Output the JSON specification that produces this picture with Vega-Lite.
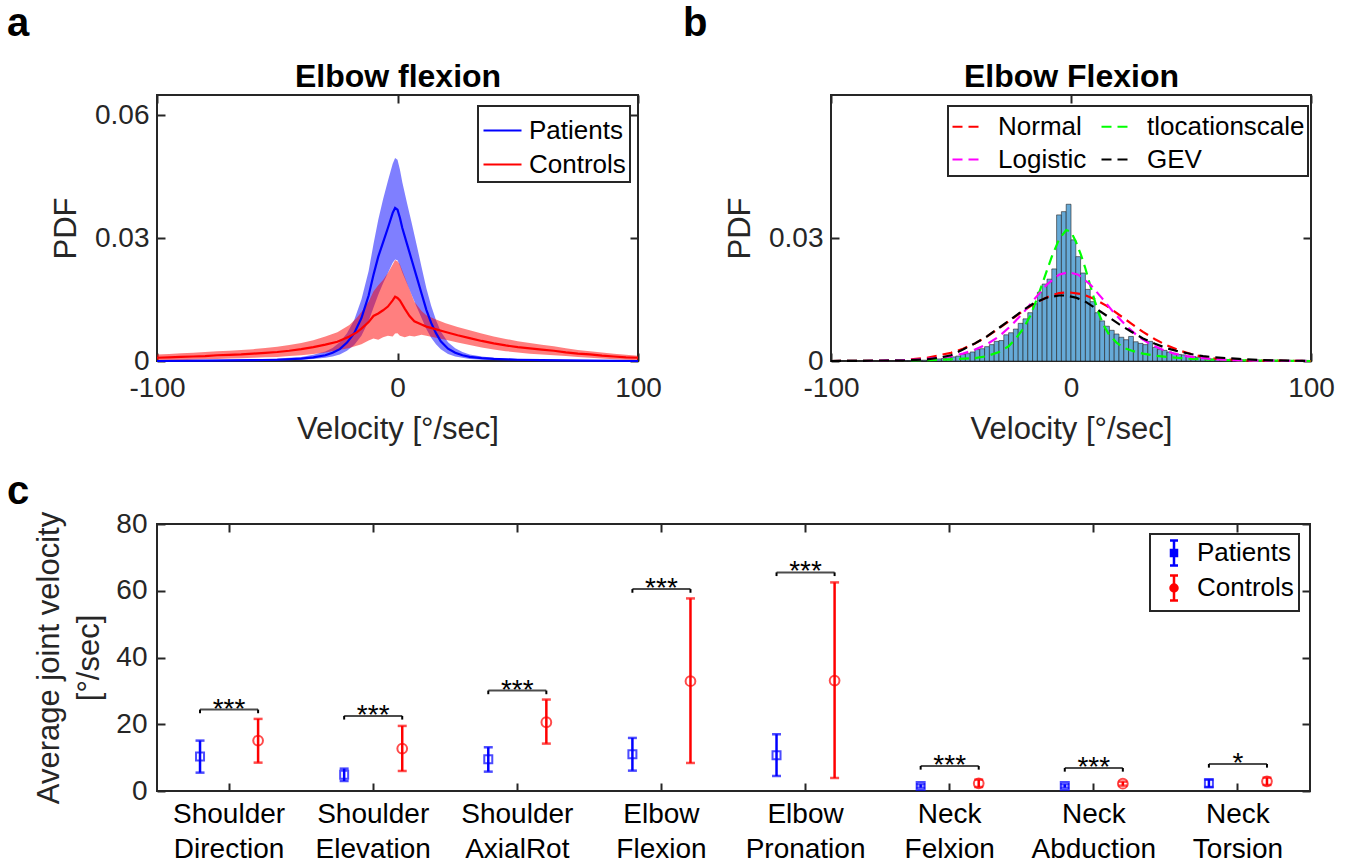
{
  "$schema": "https://vega.github.io/schema/vega-lite/v6.json",
  "background": "white",
  "padding": {"left": 6, "top": 3, "right": 0, "bottom": 0},
  "config": {
    "font": "Liberation Sans",
    "view": {"stroke": "#262626", "strokeWidth": 2},
    "axis": {
      "labelFont": "Liberation Sans", "labelFontSize": 28, "labelColor": "#262626", "labelFlush": false,
      "titleFont": "Liberation Sans", "titleFontSize": 31, "titleFontWeight": "normal", "titleColor": "#262626",
      "domain": false, "grid": false, "tickColor": "#262626", "tickWidth": 2, "tickSize": -8, "labelPadding": 16
    },
    "legend": {"labelFont": "Liberation Sans", "labelFontSize": 26, "labelColor": "#000000", "strokeColor": "#262626", "fillColor": "white", "orient": "none", "title": null, "strokeWidth": 2},
    "title": {"font": "Liberation Sans", "fontSize": 40, "fontWeight": "bold", "anchor": "start", "frame": "group", "baseline": "alphabetic", "color": "#000000"}
  },
  "datasets": {
    "bandsA": [
      {"g":"Patients","v":-100,"m":0,"lo":0,"hi":0.0001},
      {"g":"Patients","v":-80,"m":0.0001,"lo":0,"hi":0.0002},
      {"g":"Patients","v":-60,"m":0.0002,"lo":0.0001,"hi":0.0004},
      {"g":"Patients","v":-50,"m":0.0003,"lo":0.0001,"hi":0.0006},
      {"g":"Patients","v":-40,"m":0.0006,"lo":0.0003,"hi":0.0010},
      {"g":"Patients","v":-35,"m":0.0009,"lo":0.0005,"hi":0.0015},
      {"g":"Patients","v":-30,"m":0.0014,"lo":0.0008,"hi":0.0023},
      {"g":"Patients","v":-27,"m":0.0020,"lo":0.0011,"hi":0.0032},
      {"g":"Patients","v":-24,"m":0.0029,"lo":0.0016,"hi":0.0046},
      {"g":"Patients","v":-21,"m":0.0045,"lo":0.0025,"hi":0.0068},
      {"g":"Patients","v":-18,"m":0.0068,"lo":0.0039,"hi":0.0100},
      {"g":"Patients","v":-15,"m":0.0105,"lo":0.0062,"hi":0.0150},
      {"g":"Patients","v":-12,"m":0.0160,"lo":0.0098,"hi":0.0220},
      {"g":"Patients","v":-10,"m":0.0210,"lo":0.0130,"hi":0.0285},
      {"g":"Patients","v":-8,"m":0.0255,"lo":0.0162,"hi":0.0345},
      {"g":"Patients","v":-6,"m":0.0290,"lo":0.0190,"hi":0.0395},
      {"g":"Patients","v":-4,"m":0.0325,"lo":0.0215,"hi":0.0440},
      {"g":"Patients","v":-2,"m":0.0362,"lo":0.0240,"hi":0.0482},
      {"g":"Patients","v":-1,"m":0.0374,"lo":0.0248,"hi":0.0496},
      {"g":"Patients","v":0,"m":0.0370,"lo":0.0246,"hi":0.0492},
      {"g":"Patients","v":1,"m":0.0350,"lo":0.0233,"hi":0.0468},
      {"g":"Patients","v":2,"m":0.0325,"lo":0.0216,"hi":0.0437},
      {"g":"Patients","v":4,"m":0.0285,"lo":0.0188,"hi":0.0385},
      {"g":"Patients","v":6,"m":0.0245,"lo":0.0160,"hi":0.0335},
      {"g":"Patients","v":8,"m":0.0205,"lo":0.0132,"hi":0.0283},
      {"g":"Patients","v":10,"m":0.0165,"lo":0.0105,"hi":0.0230},
      {"g":"Patients","v":12,"m":0.0125,"lo":0.0078,"hi":0.0178},
      {"g":"Patients","v":14,"m":0.0093,"lo":0.0057,"hi":0.0135},
      {"g":"Patients","v":16,"m":0.0068,"lo":0.0041,"hi":0.0100},
      {"g":"Patients","v":18,"m":0.0048,"lo":0.0029,"hi":0.0072},
      {"g":"Patients","v":21,"m":0.0030,"lo":0.0017,"hi":0.0046},
      {"g":"Patients","v":24,"m":0.0020,"lo":0.0011,"hi":0.0031},
      {"g":"Patients","v":27,"m":0.0014,"lo":0.0008,"hi":0.0022},
      {"g":"Patients","v":30,"m":0.0010,"lo":0.0005,"hi":0.0016},
      {"g":"Patients","v":35,"m":0.0007,"lo":0.0003,"hi":0.0011},
      {"g":"Patients","v":40,"m":0.0005,"lo":0.0002,"hi":0.0008},
      {"g":"Patients","v":50,"m":0.0003,"lo":0.0001,"hi":0.0005},
      {"g":"Patients","v":60,"m":0.0002,"lo":0,"hi":0.0003},
      {"g":"Patients","v":80,"m":0.0001,"lo":0,"hi":0.0002},
      {"g":"Patients","v":100,"m":0,"lo":0,"hi":0.0001},
      {"g":"Controls","v":-100,"m":0.0008,"lo":0.0001,"hi":0.0016},
      {"g":"Controls","v":-95,"m":0.0009,"lo":0.0002,"hi":0.0017},
      {"g":"Controls","v":-90,"m":0.0010,"lo":0.0002,"hi":0.0019},
      {"g":"Controls","v":-85,"m":0.0011,"lo":0.0003,"hi":0.0020},
      {"g":"Controls","v":-80,"m":0.0012,"lo":0.0004,"hi":0.0022},
      {"g":"Controls","v":-75,"m":0.0014,"lo":0.0005,"hi":0.0024},
      {"g":"Controls","v":-70,"m":0.0015,"lo":0.0006,"hi":0.0025},
      {"g":"Controls","v":-65,"m":0.0016,"lo":0.0007,"hi":0.0027},
      {"g":"Controls","v":-60,"m":0.0018,"lo":0.0008,"hi":0.0029},
      {"g":"Controls","v":-55,"m":0.0020,"lo":0.0009,"hi":0.0032},
      {"g":"Controls","v":-50,"m":0.0022,"lo":0.0010,"hi":0.0035},
      {"g":"Controls","v":-45,"m":0.0025,"lo":0.0012,"hi":0.0039},
      {"g":"Controls","v":-40,"m":0.0029,"lo":0.0014,"hi":0.0044},
      {"g":"Controls","v":-35,"m":0.0034,"lo":0.0017,"hi":0.0051},
      {"g":"Controls","v":-30,"m":0.0040,"lo":0.0021,"hi":0.0060},
      {"g":"Controls","v":-25,"m":0.0047,"lo":0.0026,"hi":0.0070},
      {"g":"Controls","v":-20,"m":0.0060,"lo":0.0032,"hi":0.0088},
      {"g":"Controls","v":-17,"m":0.0070,"lo":0.0037,"hi":0.0105},
      {"g":"Controls","v":-15,"m":0.0079,"lo":0.0041,"hi":0.0120},
      {"g":"Controls","v":-12,"m":0.0095,"lo":0.0050,"hi":0.0145},
      {"g":"Controls","v":-10,"m":0.0110,"lo":0.0055,"hi":0.0170},
      {"g":"Controls","v":-8,"m":0.0116,"lo":0.0052,"hi":0.0185},
      {"g":"Controls","v":-6,"m":0.0124,"lo":0.0058,"hi":0.0198},
      {"g":"Controls","v":-4,"m":0.0133,"lo":0.0062,"hi":0.0215},
      {"g":"Controls","v":-2,"m":0.0148,"lo":0.0060,"hi":0.0236},
      {"g":"Controls","v":-1,"m":0.0157,"lo":0.0067,"hi":0.0247},
      {"g":"Controls","v":0,"m":0.0154,"lo":0.0068,"hi":0.0244},
      {"g":"Controls","v":1,"m":0.0148,"lo":0.0062,"hi":0.0236},
      {"g":"Controls","v":3,"m":0.0128,"lo":0.0058,"hi":0.0205},
      {"g":"Controls","v":5,"m":0.0110,"lo":0.0062,"hi":0.0175},
      {"g":"Controls","v":7,"m":0.0097,"lo":0.0060,"hi":0.0145},
      {"g":"Controls","v":10,"m":0.0089,"lo":0.0064,"hi":0.0122},
      {"g":"Controls","v":12,"m":0.0084,"lo":0.0062,"hi":0.0112},
      {"g":"Controls","v":15,"m":0.0079,"lo":0.0058,"hi":0.0104},
      {"g":"Controls","v":20,"m":0.0071,"lo":0.0052,"hi":0.0092},
      {"g":"Controls","v":25,"m":0.0063,"lo":0.0045,"hi":0.0083},
      {"g":"Controls","v":30,"m":0.0056,"lo":0.0039,"hi":0.0075},
      {"g":"Controls","v":35,"m":0.0049,"lo":0.0033,"hi":0.0067},
      {"g":"Controls","v":40,"m":0.0043,"lo":0.0028,"hi":0.0060},
      {"g":"Controls","v":45,"m":0.0038,"lo":0.0024,"hi":0.0054},
      {"g":"Controls","v":50,"m":0.0034,"lo":0.0021,"hi":0.0048},
      {"g":"Controls","v":55,"m":0.0031,"lo":0.0018,"hi":0.0044},
      {"g":"Controls","v":60,"m":0.0028,"lo":0.0016,"hi":0.0040},
      {"g":"Controls","v":65,"m":0.0025,"lo":0.0014,"hi":0.0036},
      {"g":"Controls","v":70,"m":0.0021,"lo":0.0012,"hi":0.0031},
      {"g":"Controls","v":75,"m":0.0018,"lo":0.0010,"hi":0.0027},
      {"g":"Controls","v":80,"m":0.0016,"lo":0.0008,"hi":0.0024},
      {"g":"Controls","v":85,"m":0.0013,"lo":0.0006,"hi":0.0021},
      {"g":"Controls","v":90,"m":0.0011,"lo":0.0004,"hi":0.0018},
      {"g":"Controls","v":95,"m":0.0009,"lo":0.0003,"hi":0.0015},
      {"g":"Controls","v":100,"m":0.0008,"lo":0.0002,"hi":0.0013}
    ],
    "hist": [
      {"b0":-70,"b1":-68,"pdf":0.0001},{"b0":-68,"b1":-66,"pdf":0.0001},{"b0":-66,"b1":-64,"pdf":0.0001},
      {"b0":-64,"b1":-62,"pdf":0.0002},{"b0":-62,"b1":-60,"pdf":0.0002},{"b0":-60,"b1":-58,"pdf":0.0003},
      {"b0":-58,"b1":-56,"pdf":0.0004},{"b0":-56,"b1":-54,"pdf":0.0005},{"b0":-54,"b1":-52,"pdf":0.0006},
      {"b0":-52,"b1":-50,"pdf":0.0008},{"b0":-50,"b1":-48,"pdf":0.0010},{"b0":-48,"b1":-46,"pdf":0.0012},
      {"b0":-46,"b1":-44,"pdf":0.0016},{"b0":-44,"b1":-42,"pdf":0.0018},{"b0":-42,"b1":-40,"pdf":0.0022},
      {"b0":-40,"b1":-38,"pdf":0.0028},{"b0":-38,"b1":-36,"pdf":0.0030},{"b0":-36,"b1":-34,"pdf":0.0035},
      {"b0":-34,"b1":-32,"pdf":0.0040},{"b0":-32,"b1":-30,"pdf":0.0048},{"b0":-30,"b1":-28,"pdf":0.0050},
      {"b0":-28,"b1":-26,"pdf":0.0064},{"b0":-26,"b1":-24,"pdf":0.0069},{"b0":-24,"b1":-22,"pdf":0.0078},
      {"b0":-22,"b1":-20,"pdf":0.0092},{"b0":-20,"b1":-18,"pdf":0.0103},{"b0":-18,"b1":-16,"pdf":0.0118},
      {"b0":-16,"b1":-14,"pdf":0.0140},{"b0":-14,"b1":-12,"pdf":0.0168},{"b0":-12,"b1":-10,"pdf":0.0188},
      {"b0":-10,"b1":-8,"pdf":0.0200},{"b0":-8,"b1":-6,"pdf":0.0225},{"b0":-6,"b1":-4,"pdf":0.0357},
      {"b0":-4,"b1":-2,"pdf":0.0365},{"b0":-2,"b1":0,"pdf":0.0383},{"b0":0,"b1":2,"pdf":0.0296},
      {"b0":2,"b1":4,"pdf":0.0255},{"b0":4,"b1":6,"pdf":0.0215},{"b0":6,"b1":8,"pdf":0.0175},
      {"b0":8,"b1":10,"pdf":0.0145},{"b0":10,"b1":12,"pdf":0.0118},{"b0":12,"b1":14,"pdf":0.0098},
      {"b0":14,"b1":16,"pdf":0.0085},{"b0":16,"b1":18,"pdf":0.0075},{"b0":18,"b1":20,"pdf":0.0066},
      {"b0":20,"b1":22,"pdf":0.0058},{"b0":22,"b1":24,"pdf":0.0052},{"b0":24,"b1":26,"pdf":0.0060},
      {"b0":26,"b1":28,"pdf":0.0047},{"b0":28,"b1":30,"pdf":0.0043},{"b0":30,"b1":32,"pdf":0.0040},
      {"b0":32,"b1":34,"pdf":0.0048},{"b0":34,"b1":36,"pdf":0.0033},{"b0":36,"b1":38,"pdf":0.0028},
      {"b0":38,"b1":40,"pdf":0.0026},{"b0":40,"b1":42,"pdf":0.0022},{"b0":42,"b1":44,"pdf":0.0019},
      {"b0":44,"b1":46,"pdf":0.0016},{"b0":46,"b1":48,"pdf":0.0015},{"b0":48,"b1":50,"pdf":0.0012},
      {"b0":50,"b1":52,"pdf":0.0011},{"b0":52,"b1":54,"pdf":0.0009},{"b0":54,"b1":56,"pdf":0.0008},
      {"b0":56,"b1":58,"pdf":0.0006},{"b0":58,"b1":60,"pdf":0.0005},{"b0":60,"b1":62,"pdf":0.0005},
      {"b0":62,"b1":64,"pdf":0.0004},{"b0":64,"b1":66,"pdf":0.0003},{"b0":66,"b1":68,"pdf":0.0002},
      {"b0":68,"b1":70,"pdf":0.0002},{"b0":70,"b1":72,"pdf":0.0001},{"b0":72,"b1":74,"pdf":0.0001}
    ],
    "fits": [
      {"d":"Normal","v":-100,"pdf":0},{"d":"Normal","v":-80,"pdf":0.0001},{"d":"Normal","v":-70,"pdf":0.0002},
      {"d":"Normal","v":-60,"pdf":0.0008},{"d":"Normal","v":-50,"pdf":0.0020},{"d":"Normal","v":-45,"pdf":0.0030},
      {"d":"Normal","v":-40,"pdf":0.0043},{"d":"Normal","v":-35,"pdf":0.0060},{"d":"Normal","v":-30,"pdf":0.0080},
      {"d":"Normal","v":-25,"pdf":0.0101},{"d":"Normal","v":-20,"pdf":0.0122},{"d":"Normal","v":-15,"pdf":0.0141},
      {"d":"Normal","v":-10,"pdf":0.0156},{"d":"Normal","v":-5,"pdf":0.0166},{"d":"Normal","v":-1,"pdf":0.0168},
      {"d":"Normal","v":5,"pdf":0.0163},{"d":"Normal","v":10,"pdf":0.0151},{"d":"Normal","v":15,"pdf":0.0134},
      {"d":"Normal","v":20,"pdf":0.0113},{"d":"Normal","v":25,"pdf":0.0092},{"d":"Normal","v":30,"pdf":0.0071},
      {"d":"Normal","v":35,"pdf":0.0053},{"d":"Normal","v":40,"pdf":0.0038},{"d":"Normal","v":45,"pdf":0.0026},
      {"d":"Normal","v":50,"pdf":0.0017},{"d":"Normal","v":55,"pdf":0.0010},{"d":"Normal","v":60,"pdf":0.0006},
      {"d":"Normal","v":70,"pdf":0.0002},{"d":"Normal","v":80,"pdf":0.0001},{"d":"Normal","v":100,"pdf":0},
      {"d":"tlocationscale","v":-100,"pdf":0},{"d":"tlocationscale","v":-80,"pdf":0.0001},{"d":"tlocationscale","v":-60,"pdf":0.0002},
      {"d":"tlocationscale","v":-50,"pdf":0.0004},{"d":"tlocationscale","v":-40,"pdf":0.0007},{"d":"tlocationscale","v":-35,"pdf":0.0012},
      {"d":"tlocationscale","v":-30,"pdf":0.0022},{"d":"tlocationscale","v":-26,"pdf":0.0036},{"d":"tlocationscale","v":-23,"pdf":0.0055},
      {"d":"tlocationscale","v":-20,"pdf":0.0078},{"d":"tlocationscale","v":-17,"pdf":0.0110},{"d":"tlocationscale","v":-14,"pdf":0.0155},
      {"d":"tlocationscale","v":-11,"pdf":0.0205},{"d":"tlocationscale","v":-8,"pdf":0.0255},{"d":"tlocationscale","v":-5,"pdf":0.0297},
      {"d":"tlocationscale","v":-2,"pdf":0.0320},{"d":"tlocationscale","v":0,"pdf":0.0316},{"d":"tlocationscale","v":2,"pdf":0.0292},
      {"d":"tlocationscale","v":4,"pdf":0.0262},{"d":"tlocationscale","v":6,"pdf":0.0226},{"d":"tlocationscale","v":8,"pdf":0.0185},
      {"d":"tlocationscale","v":10,"pdf":0.0145},{"d":"tlocationscale","v":12,"pdf":0.0110},{"d":"tlocationscale","v":14,"pdf":0.0083},
      {"d":"tlocationscale","v":16,"pdf":0.0063},{"d":"tlocationscale","v":19,"pdf":0.0045},{"d":"tlocationscale","v":22,"pdf":0.0032},
      {"d":"tlocationscale","v":26,"pdf":0.0024},{"d":"tlocationscale","v":30,"pdf":0.0018},{"d":"tlocationscale","v":35,"pdf":0.0013},
      {"d":"tlocationscale","v":40,"pdf":0.0010},{"d":"tlocationscale","v":50,"pdf":0.0005},{"d":"tlocationscale","v":60,"pdf":0.0003},
      {"d":"tlocationscale","v":80,"pdf":0.0001},{"d":"tlocationscale","v":100,"pdf":0},
      {"d":"Logistic","v":-100,"pdf":0},{"d":"Logistic","v":-80,"pdf":0.0001},{"d":"Logistic","v":-70,"pdf":0.0002},
      {"d":"Logistic","v":-60,"pdf":0.0005},{"d":"Logistic","v":-50,"pdf":0.0012},{"d":"Logistic","v":-45,"pdf":0.0018},
      {"d":"Logistic","v":-40,"pdf":0.0028},{"d":"Logistic","v":-35,"pdf":0.0041},{"d":"Logistic","v":-30,"pdf":0.0060},
      {"d":"Logistic","v":-25,"pdf":0.0086},{"d":"Logistic","v":-20,"pdf":0.0117},{"d":"Logistic","v":-15,"pdf":0.0153},
      {"d":"Logistic","v":-10,"pdf":0.0187},{"d":"Logistic","v":-5,"pdf":0.0211},{"d":"Logistic","v":-1,"pdf":0.0217},
      {"d":"Logistic","v":3,"pdf":0.0211},{"d":"Logistic","v":8,"pdf":0.0187},{"d":"Logistic","v":13,"pdf":0.0153},
      {"d":"Logistic","v":18,"pdf":0.0117},{"d":"Logistic","v":23,"pdf":0.0086},{"d":"Logistic","v":28,"pdf":0.0060},
      {"d":"Logistic","v":33,"pdf":0.0041},{"d":"Logistic","v":38,"pdf":0.0028},{"d":"Logistic","v":43,"pdf":0.0018},
      {"d":"Logistic","v":48,"pdf":0.0012},{"d":"Logistic","v":58,"pdf":0.0005},{"d":"Logistic","v":68,"pdf":0.0002},
      {"d":"Logistic","v":78,"pdf":0.0001},{"d":"Logistic","v":100,"pdf":0},
      {"d":"GEV","v":-100,"pdf":0},{"d":"GEV","v":-70,"pdf":0.0001},{"d":"GEV","v":-60,"pdf":0.0004},
      {"d":"GEV","v":-55,"pdf":0.0008},{"d":"GEV","v":-50,"pdf":0.0014},{"d":"GEV","v":-45,"pdf":0.0028},
      {"d":"GEV","v":-40,"pdf":0.0043},{"d":"GEV","v":-35,"pdf":0.0060},{"d":"GEV","v":-30,"pdf":0.0081},
      {"d":"GEV","v":-25,"pdf":0.0102},{"d":"GEV","v":-20,"pdf":0.0124},{"d":"GEV","v":-15,"pdf":0.0143},
      {"d":"GEV","v":-10,"pdf":0.0155},{"d":"GEV","v":-5,"pdf":0.0160},{"d":"GEV","v":-2,"pdf":0.0160},
      {"d":"GEV","v":2,"pdf":0.0155},{"d":"GEV","v":6,"pdf":0.0145},{"d":"GEV","v":10,"pdf":0.0130},
      {"d":"GEV","v":15,"pdf":0.0110},{"d":"GEV","v":20,"pdf":0.0090},{"d":"GEV","v":25,"pdf":0.0072},
      {"d":"GEV","v":30,"pdf":0.0055},{"d":"GEV","v":35,"pdf":0.0042},{"d":"GEV","v":40,"pdf":0.0031},
      {"d":"GEV","v":45,"pdf":0.0023},{"d":"GEV","v":50,"pdf":0.0017},{"d":"GEV","v":55,"pdf":0.0012},
      {"d":"GEV","v":60,"pdf":0.0009},{"d":"GEV","v":70,"pdf":0.0005},{"d":"GEV","v":80,"pdf":0.0002},
      {"d":"GEV","v":90,"pdf":0.0001},{"d":"GEV","v":100,"pdf":0}
    ],
    "joints": [
      {"joint":"Shoulder Direction","group":"Patients","mean":10.3,"lo":5.5,"hi":15.1,"br":24.4,"brEnd":23.3},
      {"joint":"Shoulder Direction","group":"Controls","mean":15.1,"lo":8.5,"hi":21.6,"br":24.4,"brEnd":23.3},
      {"joint":"Shoulder Elevation","group":"Patients","mean":4.9,"lo":3.0,"hi":6.7,"br":22.5,"brEnd":21.4},
      {"joint":"Shoulder Elevation","group":"Controls","mean":12.7,"lo":6.0,"hi":19.5,"br":22.5,"brEnd":21.4},
      {"joint":"Shoulder AxialRot","group":"Patients","mean":9.5,"lo":5.8,"hi":13.1,"br":30.1,"brEnd":29.0},
      {"joint":"Shoulder AxialRot","group":"Controls","mean":20.6,"lo":14.2,"hi":27.4,"br":30.1,"brEnd":29.0},
      {"joint":"Elbow Flexion","group":"Patients","mean":11.0,"lo":6.1,"hi":15.9,"br":60.5,"brEnd":59.4},
      {"joint":"Elbow Flexion","group":"Controls","mean":32.9,"lo":8.4,"hi":57.7,"br":60.5,"brEnd":59.4},
      {"joint":"Elbow Pronation","group":"Patients","mean":10.7,"lo":4.5,"hi":17.0,"br":65.5,"brEnd":64.4},
      {"joint":"Elbow Pronation","group":"Controls","mean":33.1,"lo":3.9,"hi":62.5,"br":65.5,"brEnd":64.4},
      {"joint":"Neck Felxion","group":"Patients","mean":1.5,"lo":1.0,"hi":2.0,"br":7.5,"brEnd":6.4},
      {"joint":"Neck Felxion","group":"Controls","mean":2.3,"lo":1.2,"hi":3.4,"br":7.5,"brEnd":6.4},
      {"joint":"Neck Abduction","group":"Patients","mean":1.5,"lo":1.0,"hi":2.0,"br":6.9,"brEnd":5.8},
      {"joint":"Neck Abduction","group":"Controls","mean":2.2,"lo":1.6,"hi":2.8,"br":6.9,"brEnd":5.8},
      {"joint":"Neck Torsion","group":"Patients","mean":2.3,"lo":1.2,"hi":3.4,"br":8.1,"brEnd":7.0},
      {"joint":"Neck Torsion","group":"Controls","mean":2.9,"lo":1.8,"hi":4.0,"br":8.1,"brEnd":7.0}
    ],
    "brackets": [
      {"joint":"Shoulder Direction","br":24.4,"stars":"***"},
      {"joint":"Shoulder Elevation","br":22.5,"stars":"***"},
      {"joint":"Shoulder AxialRot","br":30.1,"stars":"***"},
      {"joint":"Elbow Flexion","br":60.5,"stars":"***"},
      {"joint":"Elbow Pronation","br":65.5,"stars":"***"},
      {"joint":"Neck Felxion","br":7.5,"stars":"***"},
      {"joint":"Neck Abduction","br":6.9,"stars":"***"},
      {"joint":"Neck Torsion","br":8.1,"stars":"*"}
    ]
  },
  "spacing": 26,
  "resolve": {"scale": {"color": "independent"}, "legend": {"color": "independent"}},
  "vconcat": [
    {
      "spacing": 19,
      "resolve": {"scale": {"color": "independent"}, "legend": {"color": "independent"}},
      "hconcat": [
        {
          "width": 481, "height": 266,
          "title": {"text": "a", "dx": -150, "offset": 16},
          "data": {"name": "bandsA"},
          "layer": [
            {
              "transform": [{"filter": "datum.g === 'Patients'"}],
              "mark": {"type": "area", "color": "#0000FF", "fillOpacity": 0.5},
              "encoding": {
                "x": {"field": "v", "type": "quantitative", "scale": {"domain": [-100, 100], "nice": false},
                      "axis": {"orient": "bottom", "values": [-100, 0, 100], "labelExpr": "toString(datum.value)", "title": "Velocity [°/sec]", "titlePadding": 12, "labelPadding": 21}},
                "y": {"field": "lo", "type": "quantitative", "scale": {"domain": [0, 0.065], "nice": false},
                      "axis": {"orient": "left", "values": [0, 0.03, 0.06], "labelExpr": "toString(datum.value)", "title": "PDF", "titlePadding": 12, "labelPadding": 16}},
                "y2": {"field": "hi"}
              }
            },
            {
              "transform": [{"filter": "datum.g === 'Controls'"}],
              "mark": {"type": "area", "color": "#FF0000", "fillOpacity": 0.5},
              "encoding": {
                "x": {"field": "v", "type": "quantitative", "scale": {"domain": [-100, 100], "nice": false}, "axis": null},
                "y": {"field": "lo", "type": "quantitative", "scale": {"domain": [0, 0.065], "nice": false}, "axis": null},
                "y2": {"field": "hi"}
              }
            },
            {
              "mark": {"type": "line", "strokeWidth": 2.2},
              "encoding": {
                "x": {"field": "v", "type": "quantitative", "scale": {"domain": [-100, 100], "nice": false},
                      "axis": {"orient": "top", "labels": false, "values": [-100, 0, 100], "title": "Elbow flexion", "titleFontWeight": "bold", "titleFontSize": 32, "titleColor": "#000000", "titlePadding": 8, "titleBaseline": "alphabetic"}},
                "y": {"field": "m", "type": "quantitative", "scale": {"domain": [0, 0.065], "nice": false},
                      "axis": {"orient": "right", "labels": false, "values": [0, 0.03, 0.06], "title": null}},
                "color": {"field": "g", "type": "nominal", "scale": {"domain": ["Patients", "Controls"], "range": ["#0000FF", "#FF0000"]},
                          "legend": {"legendX": 321, "legendY": 11, "symbolType": "stroke", "symbolSize": 1444, "symbolStrokeWidth": 2.2, "labelOffset": 6, "padding": 4, "rowPadding": -1}}
              }
            }
          ],
          "resolve": {"axis": {"x": "independent", "y": "independent"}}
        },
        {
          "width": 480, "height": 266,
          "title": {"text": "b", "dx": -148, "offset": 16},
          "layer": [
            {
              "data": {"name": "hist"},
              "mark": {"type": "bar", "color": "#66AAD7", "stroke": "#222222", "strokeWidth": 0.6},
              "encoding": {
                "x": {"field": "b0", "type": "quantitative", "scale": {"domain": [-100, 100], "nice": false},
                      "axis": {"orient": "bottom", "values": [-100, 0, 100], "labelExpr": "toString(datum.value)", "title": "Velocity [°/sec]", "titlePadding": 12, "labelPadding": 21}},
                "x2": {"field": "b1"},
                "y": {"field": "pdf", "type": "quantitative", "scale": {"domain": [0, 0.065], "nice": false},
                      "axis": {"orient": "left", "values": [0, 0.03], "labelExpr": "toString(datum.value)", "title": "PDF", "titlePadding": 12, "labelPadding": 16}},
                "y2": {"datum": 0}
              }
            },
            {
              "data": {"name": "fits"},
              "mark": {"type": "line", "strokeWidth": 2.2, "strokeDash": [10, 6]},
              "encoding": {
                "x": {"field": "v", "type": "quantitative", "scale": {"domain": [-100, 100], "nice": false},
                      "axis": {"orient": "top", "labels": false, "values": [-100, 0, 100], "title": "Elbow Flexion", "titleFontWeight": "bold", "titleFontSize": 32, "titleColor": "#000000", "titlePadding": 8, "titleBaseline": "alphabetic"}},
                "y": {"field": "pdf", "type": "quantitative", "scale": {"domain": [0, 0.065], "nice": false},
                      "axis": {"orient": "right", "labels": false, "values": [0, 0.03], "title": null}},
                "color": {"field": "d", "type": "nominal", "sort": null, "scale": {"domain": ["Normal", "Logistic", "tlocationscale", "GEV"], "range": ["#FF0000", "#FF00FF", "#00FF00", "#000000"]},
                          "legend": {"legendX": 117, "legendY": 11, "columns": 2, "symbolType": "stroke", "symbolSize": 1024, "symbolDash": [10, 6], "symbolStrokeWidth": 2.2, "labelOffset": 12, "columnPadding": 10, "padding": 3, "rowPadding": 2}}
              }
            }
          ],
          "resolve": {"axis": {"x": "independent", "y": "independent"}}
        }
      ]
    },
    {
      "width": 1153, "height": 267,
      "title": {"text": "c", "dx": -150, "offset": -2},
      "data": {"name": "joints"},
      "layer": [
        {
          "mark": {"type": "rule", "strokeWidth": 2.5},
          "encoding": {
            "x": {"field": "joint", "type": "nominal", "sort": null,
                  "scale": {"type": "band", "domain": ["Shoulder Direction", "Shoulder Elevation", "Shoulder AxialRot", "Elbow Flexion", "Elbow Pronation", "Neck Felxion", "Neck Abduction", "Neck Torsion"], "paddingInner": 0, "paddingOuter": 0},
                  "axis": {"orient": "bottom", "title": null, "labelAngle": 0, "labelExpr": "split(datum.label, ' ')", "labelLineHeight": 35, "labelPadding": 17, "labelColor": "#000000"}},
            "xOffset": {"field": "group", "type": "nominal", "sort": null, "scale": {"type": "band", "domain": ["Patients", "Controls"], "paddingInner": 0.6, "paddingOuter": 0.541}},
            "y": {"field": "lo", "type": "quantitative", "scale": {"domain": [0, 80], "nice": false},
                  "axis": {"orient": "left", "values": [0, 20, 40, 60, 80], "labelExpr": "toString(datum.value)", "title": ["Average joint velocity", "[°/sec]"], "titleLineHeight": 40, "titlePadding": 10, "labelPadding": 18}},
            "y2": {"field": "hi"},
            "color": {"field": "group", "type": "nominal", "scale": {"domain": ["Patients", "Controls"], "range": ["#0000FF", "#FF0000"]},
                      "legend": {"legendX": 993, "legendY": 10, "symbolSize": 625, "symbolStrokeWidth": 2.5, "labelOffset": 14, "padding": 5, "rowPadding": -1,
                                 "encode": {"symbols": {"update": {
                                   "shape": {"signal": "datum.value === 'Patients' ? 'M0.4,-1V1M0.08,-1H0.72M0.08,1H0.72M0.16,-0.24H0.64V0.24H0.16Z' : 'M0.4,-1V1M0.08,-1H0.72M0.08,1H0.72M0.68,0A0.28,0.28,0,1,1,0.12,0A0.28,0.28,0,1,1,0.68,0Z'"},
                                   "stroke": {"signal": "datum.value === 'Patients' ? '#0000FF' : '#FF0000'"},
                                   "fill": {"value": "transparent"}}}}}}
          }
        },
        {
          "mark": {"type": "tick", "size": 9, "thickness": 2.5, "orient": "horizontal"},
          "encoding": {
            "x": {"field": "joint", "type": "nominal", "sort": null, "axis": null},
            "xOffset": {"field": "group", "type": "nominal", "sort": null},
            "y": {"field": "lo", "type": "quantitative", "axis": null},
            "color": {"field": "group", "type": "nominal", "legend": null}
          }
        },
        {
          "mark": {"type": "tick", "size": 9, "thickness": 2.5, "orient": "horizontal"},
          "encoding": {
            "x": {"field": "joint", "type": "nominal", "sort": null, "axis": null},
            "xOffset": {"field": "group", "type": "nominal", "sort": null},
            "y": {"field": "hi", "type": "quantitative", "axis": null},
            "color": {"field": "group", "type": "nominal", "legend": null}
          }
        },
        {
          "transform": [{"filter": "datum.group === 'Patients'"}],
          "mark": {"type": "point", "shape": "square", "filled": false, "size": 64, "strokeWidth": 2},
          "encoding": {
            "x": {"field": "joint", "type": "nominal", "sort": null, "axis": null},
            "xOffset": {"field": "group", "type": "nominal", "sort": null},
            "y": {"field": "mean", "type": "quantitative", "axis": null},
            "color": {"field": "group", "type": "nominal", "legend": null}
          }
        },
        {
          "transform": [{"filter": "datum.group === 'Controls'"}],
          "mark": {"type": "point", "shape": "circle", "filled": false, "size": 95, "strokeWidth": 2},
          "encoding": {
            "x": {"field": "joint", "type": "nominal", "sort": null, "axis": null},
            "xOffset": {"field": "group", "type": "nominal", "sort": null},
            "y": {"field": "mean", "type": "quantitative", "axis": null},
            "color": {"field": "group", "type": "nominal", "legend": null}
          }
        },
        {
          "mark": {"type": "rule", "strokeWidth": 2, "color": "#000000"},
          "encoding": {
            "x": {"field": "joint", "type": "nominal", "sort": null, "axis": null},
            "xOffset": {"field": "group", "type": "nominal", "sort": null},
            "y": {"field": "br", "type": "quantitative", "axis": null},
            "y2": {"field": "brEnd"}
          }
        },
        {
          "data": {"name": "brackets"},
          "mark": {"type": "tick", "size": 58, "thickness": 2, "orient": "horizontal", "color": "#000000"},
          "encoding": {
            "x": {"field": "joint", "type": "nominal", "sort": null, "axis": {"orient": "top", "labels": false, "title": null}},
            "y": {"field": "br", "type": "quantitative", "axis": {"orient": "right", "labels": false, "title": null, "values": [0, 20, 40, 60, 80]}}
          }
        },
        {
          "data": {"name": "brackets"},
          "mark": {"type": "text", "fontSize": 28, "baseline": "alphabetic", "dy": 8, "color": "#000000", "font": "Liberation Sans"},
          "encoding": {
            "x": {"field": "joint", "type": "nominal", "sort": null, "axis": null},
            "y": {"field": "br", "type": "quantitative", "axis": null},
            "text": {"field": "stars"}
          }
        }
      ],
      "resolve": {"axis": {"x": "independent", "y": "independent"}}
    }
  ]
}
